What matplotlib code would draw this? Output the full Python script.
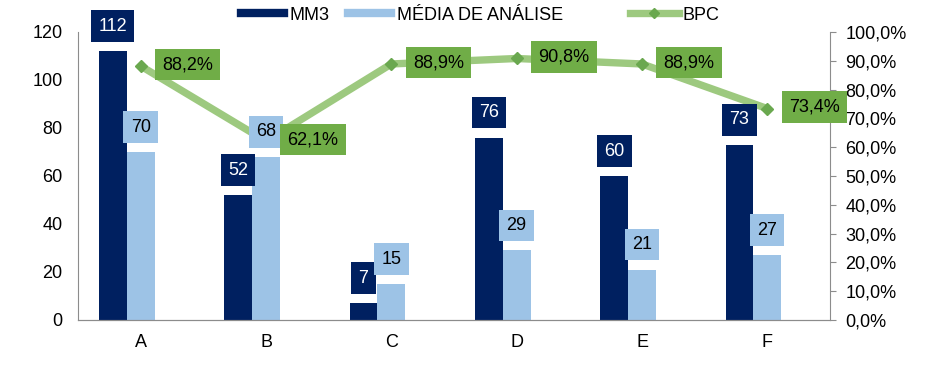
import matplotlib
matplotlib.use("Agg")
import matplotlib.pyplot as plt
from matplotlib.lines import Line2D
import numpy as np

plt.rcParams['font.family'] = ['Liberation Sans', 'DejaVu Sans']

categories = ["A", "B", "C", "D", "E", "F"]
mm3 = [112, 52, 7, 76, 60, 73]
media = [70, 68, 15, 29, 21, 27]
bpc = [88.2, 62.1, 88.9, 90.8, 88.9, 73.4]
left_ticks = [0, 20, 40, 60, 80, 100, 120]
right_ticks = [0, 10, 20, 30, 40, 50, 60, 70, 80, 90, 100]

dark = "#002060"
light = "#9dc3e6"
line_c = "#9dc97f"
marker_c = "#6aa84f"
box_green = "#70ad47"
gray = "#8c8c8c"
fs = 13

fig = plt.figure(figsize=(9.39, 3.65), dpi=100)
ax = fig.add_axes([78/939, 1-320/365, (830-78)/939, (320-32)/365])
ax2 = ax.twinx()

x = np.arange(len(categories))
w = 0.222
ax.bar(x - w, mm3, w, color=dark, zorder=2)
ax.bar(x, media, w, color=light, zorder=2)
ax.set_xlim(-0.5, 5.5)
ax.set_ylim(0, 120)
ax.set_yticks(left_ticks)
ax.set_yticklabels([str(t) for t in left_ticks], fontsize=fs)
ax.set_xticks(x)
ax.set_xticklabels(categories, fontsize=fs)
ax.tick_params(axis='x', length=0, pad=10)
ax.tick_params(axis='y', length=0, pad=11)

ax2.plot(x, bpc, color=line_c, lw=5.3, solid_capstyle='butt', zorder=3)
ax2.plot(x, bpc, ls='none', marker='D', ms=6.5, color=marker_c, zorder=4)
ax2.set_ylim(0, 100)
ax2.set_yticks(right_ticks)
ax2.set_yticklabels([f"{t:.1f}%".replace('.', ',') for t in right_ticks], fontsize=fs)
ax2.tick_params(axis='y', length=4, color=gray, pad=7)

for a in (ax, ax2):
    a.spines['top'].set_visible(False)
    a.spines['left'].set_color(gray)
    a.spines['right'].set_color(gray)
    a.spines['bottom'].set_color(gray)
ax.spines['right'].set_visible(False)
ax2.spines['left'].set_visible(False)

bp = 0.4
for i in range(len(categories)):
    ax2.annotate(str(mm3[i]), xy=(x[i] - w, mm3[i]), xycoords=ax.transData,
                 xytext=(0, 18), textcoords='offset points', ha='center', va='center',
                 fontsize=fs, color='white', zorder=6,
                 bbox=dict(boxstyle=f'square,pad={bp}', fc=dark, ec='none'))
    ax2.annotate(str(media[i]), xy=(x[i], media[i]), xycoords=ax.transData,
                 xytext=(0, 18), textcoords='offset points', ha='center', va='center',
                 fontsize=fs, color='black', zorder=6,
                 bbox=dict(boxstyle=f'square,pad={bp}', fc=light, ec='none'))
    ax2.annotate(f"{bpc[i]:.1f}%".replace('.', ','), xy=(x[i], bpc[i]),
                 xytext=(15.5, 1), textcoords='offset points', ha='left', va='center',
                 fontsize=fs, color='black', zorder=6,
                 bbox=dict(boxstyle=f'square,pad={bp}', fc=box_green, ec='none'))

h1 = [Line2D([], [], color=dark, lw=6),
      Line2D([], [], color=light, lw=6)]
h2 = [Line2D([], [], color=line_c, lw=5.3, marker='D', ms=5.5,
             markerfacecolor=marker_c, markeredgecolor=marker_c)]
leg1 = fig.legend(h1, ["MM3", "MÉDIA DE ANÁLISE"], loc='center left',
                  bbox_to_anchor=(241/939, 1-15/365), ncol=2, frameon=False,
                  fontsize=fs, handlelength=2.4, handletextpad=0.3,
                  columnspacing=1.0, borderpad=0, borderaxespad=0)
leg2 = fig.legend(h2, ["BPC"], loc='center left',
                  bbox_to_anchor=(630/939, 1-15/365), frameon=False,
                  fontsize=fs, handlelength=2.7, handletextpad=0.2,
                  borderpad=0, borderaxespad=0)

fig.savefig("out.png", dpi=100)
